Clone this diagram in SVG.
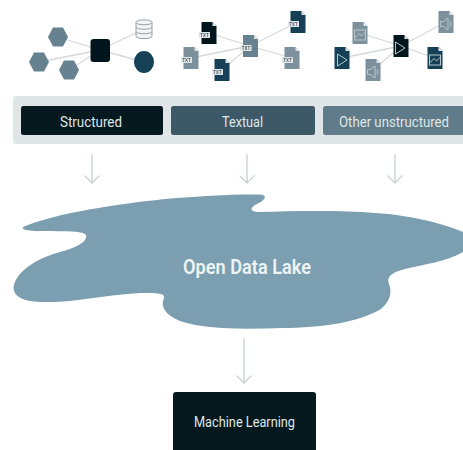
<svg xmlns="http://www.w3.org/2000/svg" width="463" height="450" viewBox="0 0 463 450">
<style>
text{font-family:Roboto,"Liberation Sans",sans-serif;text-anchor:middle}
.lbl{font-size:15.500px;fill:#dfe6e8}
.link{stroke:#d5d9da;stroke-width:1.3;fill:none}
.arrow{stroke:#ccd3d4;stroke-width:1.4;fill:none}
.dark{fill:#06191f}.navy{fill:#123f55}.mid{fill:#66818f}.light{fill:#7d919c}
.tag{fill:#dfe4e6}
.tt{font-size:4.500px;font-weight:700;fill:#5a6a72}
.glyph{fill:none;stroke:#b9c7cd;stroke-width:1}
.soft{filter:url(#soft)}
</style>
<defs>
<filter id="soft" x="-5%" y="-5%" width="110%" height="110%"><feGaussianBlur stdDeviation="0.4"/></filter>
<path id="doc" d="M-7.500-11H3.500L7.500-7V11H-7.500Z"/>
<path id="fold" d="M3.500-11V-7H7.500Z" fill="#dfe5e8"/>
<polygon id="hex" points="-10,0 -5,-9.500 5,-9.500 10,0 5,9.500 -5,9.500"/>
<g id="play"><path class="glyph" d="M-4.500-6L5 0L-4.500 6Z"/></g>
<g id="pic"><rect class="glyph" x="-5.500" y="-5" width="11" height="10"/><path class="glyph" d="M-5.500 3L-1-1.500L1.500 1L5.500-3"/></g>
<g id="spk"><path class="glyph" d="M-5.500-2.500H-2.500L2-6V6L-2.500 2.500H-5.500Z"/><path class="glyph" d="M4-3Q6 0 4 3"/></g>
<g id="txt"><rect class="tag" x="-10" y="-1" width="11" height="6"/><text class="tt" x="-4.500" y="3.700">TXT</text></g>
</defs>
<g id="connectors" class="soft">
<path class="link" d="M100 50L58 37M100 50L39 62M100 50L69 70M100 50L144 29M100 50L144 62"/>
<path class="link" d="M250 46L209 33M250 46L191 58M250 46L222 70M250 46L298 22M250 46L292 58"/>
<path class="link" d="M401 46L360 33M401 46L342 58M401 46L373 70M401 46L446 22M401 46L435 58"/>
<path class="arrow" d="M92 154V183M84.500 175.500L92 183L99.500 175.500"/>
<path class="arrow" d="M247 154V183M239.500 175.500L247 183L254.500 175.500"/>
<path class="arrow" d="M395 154V183M387.500 175.500L395 183L402.500 175.500"/>
<path class="arrow" d="M244 338V383M236.500 375.500L244 383L251.500 375.500"/>
</g>
<g id="structured-icons" class="soft">
<use href="#hex" class="mid" x="58" y="37"/>
<use href="#hex" class="mid" x="39" y="62"/>
<use href="#hex" class="mid" x="69" y="70"/>
<rect class="dark" x="90.500" y="39" width="19.500" height="23" rx="3"/>
<g id="database">
<path d="M136 22.500C136 19 152 19 152 22.500V36C152 39.500 136 39.500 136 36Z" fill="#f2f4f5" stroke="#93a3ab" stroke-width="1"/>
<path d="M136 22.500C136 25.500 152 25.500 152 22.500M136 27C136 30 152 30 152 27M136 31.500C136 34.500 152 34.500 152 31.500" fill="none" stroke="#93a3ab" stroke-width="1"/>
</g>
<ellipse class="navy" cx="144" cy="62" rx="10" ry="11"/>
</g>
<g id="textual-icons" class="soft">
<g transform="translate(250.500 46)"><use href="#doc" class="mid"/><use href="#fold"/><use href="#txt"/></g>
<g transform="translate(209 33)"><use href="#doc" class="dark"/><use href="#fold"/><use href="#txt"/></g>
<g transform="translate(191 58)"><use href="#doc" class="light"/><use href="#fold"/><use href="#txt"/></g>
<g transform="translate(222 70)"><use href="#doc" class="navy"/><use href="#fold"/><use href="#txt"/></g>
<g transform="translate(298 22)"><use href="#doc" class="navy"/><use href="#fold"/><use href="#txt"/></g>
<g transform="translate(292 58)"><use href="#doc" class="light"/><use href="#fold"/><use href="#txt"/></g>
</g>
<g id="unstructured-icons" class="soft">
<g transform="translate(401 46)"><use href="#doc" class="dark"/><use href="#fold"/><use href="#play" x="-1" y="2"/></g>
<g transform="translate(360 33)"><use href="#doc" class="light"/><use href="#fold"/><use href="#pic" y="2"/></g>
<g transform="translate(342 58)"><use href="#doc" class="navy"/><use href="#fold"/><use href="#play" y="2"/></g>
<g transform="translate(373 70)"><use href="#doc" class="light"/><use href="#fold"/><use href="#spk" y="2"/></g>
<g transform="translate(446 22)"><use href="#doc" class="light"/><use href="#fold"/><use href="#spk" y="2"/></g>
<g transform="translate(435 58)"><use href="#doc" class="navy"/><use href="#fold"/><use href="#pic" y="2"/></g>
</g>
<path id="panel" d="M16 96H463V144H16Q13 144 13 141V99Q13 96 16 96Z" fill="#e0e5e7"/>
<g id="structured"><rect class="dark" x="21" y="106" width="142" height="29" rx="2.500"/><text class="lbl" x="91" y="126.500" textLength="62" lengthAdjust="spacingAndGlyphs">Structured</text></g>
<g id="textual"><rect x="171" y="106" width="144" height="29" rx="2.500" fill="#3d5967"/><text class="lbl" x="242.500" y="126.500" textLength="41" lengthAdjust="spacingAndGlyphs">Textual</text></g>
<g id="other"><path d="M325.500 106H463V135H325.500Q323 135 323 132.500V108.500Q323 106 325.500 106Z" fill="#607c8a"/><text class="lbl" x="394" y="126.500" textLength="110" lengthAdjust="spacingAndGlyphs">Other unstructured</text></g>
<g id="lake">
<path fill="#7b9fb0" d="M260 194.500C268 195 265 200 259 203C252 206 247 211 258 212C295 211 340 210 375 213C410 215 445 224 463 232V252C445 262 425 264 405 269C390 273 387 277 389 284C392 292 391 300 381 309C360 322 320 328 283 328C245 329 205 330 180 321C165 315 160 306 164 298C165 293 158 293 140 293C105 295 75 302 50 302C25 303 11 297 14 285C18 270 38 258 60 252C75 248 88 242 86 235C83 230 60 232 35 231C20 230 20 228 28 225C60 213 110 205 165 199C200 196 235 194 260 194.500Z"/>
<text x="247" y="273.500" font-size="20" font-weight="600" fill="#eef3f5" textLength="128" lengthAdjust="spacingAndGlyphs">Open Data Lake</text>
</g>
<g id="machine-learning"><path class="dark" d="M176 392H313Q316 392 316 395V450H173V395Q173 392 176 392Z"/><text class="lbl" x="244.500" y="427" textLength="101" lengthAdjust="spacingAndGlyphs">Machine Learning</text></g>
</svg>
